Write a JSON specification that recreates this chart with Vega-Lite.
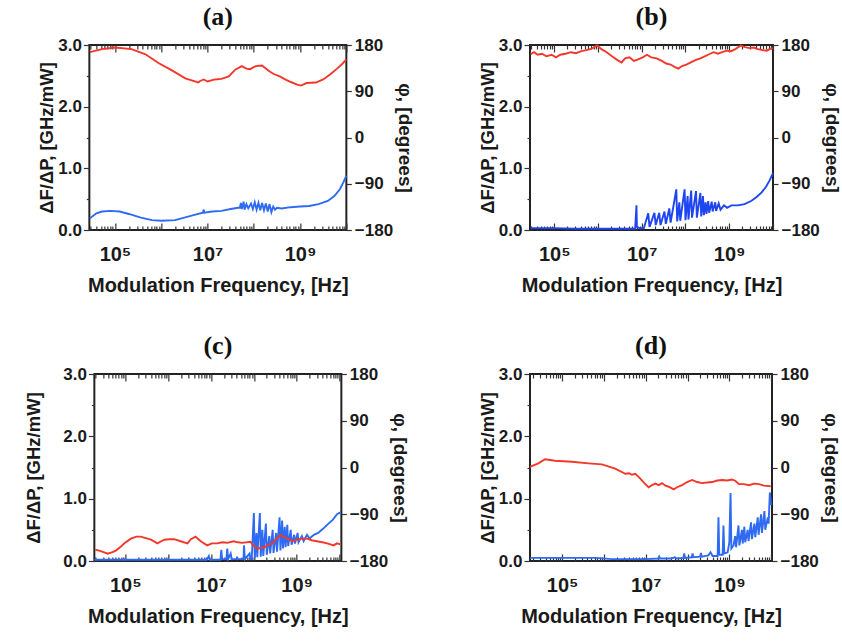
{
 "$schema": "https://vega.github.io/schema/vega-lite/v6.json",
 "background": "white",
 "padding": {"left": 23, "top": 3, "right": 0, "bottom": 0},
 "datasets": {
  "pts": [
   {"p":"a","s":"P","f":2.88e4,"v":166},{"p":"a","s":"P","f":5.25e4,"v":172},{"p":"a","s":"P","f":1e5,"v":175},{"p":"a","s":"P","f":2.29e5,"v":172},{"p":"a","s":"P","f":4.57e5,"v":162},{"p":"a","s":"P","f":8.71e5,"v":145},{"p":"a","s":"P","f":1.74e6,"v":130},{"p":"a","s":"P","f":3.31e6,"v":115},{"p":"a","s":"P","f":6.31e6,"v":107},{"p":"a","s":"P","f":6.92e6,"v":110},{"p":"a","s":"P","f":8.32e6,"v":113},{"p":"a","s":"P","f":1e7,"v":109},{"p":"a","s":"P","f":1.45e7,"v":113},{"p":"a","s":"P","f":2e7,"v":114},{"p":"a","s":"P","f":2.88e7,"v":119},{"p":"a","s":"P","f":3.98e7,"v":132},{"p":"a","s":"P","f":5.5e7,"v":139},{"p":"a","s":"P","f":6.92e7,"v":134},{"p":"a","s":"P","f":8.32e7,"v":133},{"p":"a","s":"P","f":1.1e8,"v":139},{"p":"a","s":"P","f":1.51e8,"v":140},{"p":"a","s":"P","f":2.09e8,"v":130},{"p":"a","s":"P","f":2.63e8,"v":124},{"p":"a","s":"P","f":3.63e8,"v":119},{"p":"a","s":"P","f":5.01e8,"v":112},{"p":"a","s":"P","f":6.31e8,"v":108},{"p":"a","s":"P","f":8.71e8,"v":103},{"p":"a","s":"P","f":1.05e9,"v":101},{"p":"a","s":"P","f":1.38e9,"v":106},{"p":"a","s":"P","f":2.19e9,"v":107},{"p":"a","s":"P","f":3.16e9,"v":113},{"p":"a","s":"P","f":4.37e9,"v":122},{"p":"a","s":"P","f":6.31e9,"v":134},{"p":"a","s":"P","f":8.32e9,"v":144},{"p":"a","s":"P","f":1e10,"v":152},
   {"p":"a","s":"A","f":2.88e4,"v":0.19},{"p":"a","s":"A","f":3.98e4,"v":0.27},{"p":"a","s":"A","f":5.25e4,"v":0.30},{"p":"a","s":"A","f":7.94e4,"v":0.31},{"p":"a","s":"A","f":1.26e5,"v":0.30},{"p":"a","s":"A","f":2e5,"v":0.26},{"p":"a","s":"A","f":3.63e5,"v":0.20},{"p":"a","s":"A","f":6.31e5,"v":0.16},{"p":"a","s":"A","f":1e6,"v":0.15},{"p":"a","s":"A","f":2e6,"v":0.16},{"p":"a","s":"A","f":3.16e6,"v":0.20},{"p":"a","s":"A","f":5.01e6,"v":0.24},{"p":"a","s":"A","f":7.94e6,"v":0.28},{"p":"a","s":"A","f":8.32e6,"v":0.33},{"p":"a","s":"A","f":8.5e6,"v":0.28},{"p":"a","s":"A","f":1.26e7,"v":0.30},{"p":"a","s":"A","f":2e7,"v":0.31},{"p":"a","s":"A","f":3.16e7,"v":0.34},{"p":"a","s":"A","f":4.57e7,"v":0.36},{"p":"a","s":"A","f":5.01e7,"v":0.36},{"p":"a","s":"A","f":5.25e7,"v":0.44},{"p":"a","s":"A","f":5.5e7,"v":0.34},{"p":"a","s":"A","f":6.03e7,"v":0.46},{"p":"a","s":"A","f":6.31e7,"v":0.33},{"p":"a","s":"A","f":6.92e7,"v":0.42},{"p":"a","s":"A","f":7.59e7,"v":0.35},{"p":"a","s":"A","f":8.71e7,"v":0.43},{"p":"a","s":"A","f":9.55e7,"v":0.34},{"p":"a","s":"A","f":1.05e8,"v":0.45},{"p":"a","s":"A","f":1.15e8,"v":0.33},{"p":"a","s":"A","f":1.26e8,"v":0.44},{"p":"a","s":"A","f":1.38e8,"v":0.32},{"p":"a","s":"A","f":1.51e8,"v":0.44},{"p":"a","s":"A","f":1.66e8,"v":0.32},{"p":"a","s":"A","f":1.82e8,"v":0.43},{"p":"a","s":"A","f":2e8,"v":0.30},{"p":"a","s":"A","f":2.19e8,"v":0.42},{"p":"a","s":"A","f":2.4e8,"v":0.29},{"p":"a","s":"A","f":2.63e8,"v":0.38},{"p":"a","s":"A","f":2.88e8,"v":0.33},{"p":"a","s":"A","f":3.16e8,"v":0.36},{"p":"a","s":"A","f":3.98e8,"v":0.35},{"p":"a","s":"A","f":6.31e8,"v":0.37},{"p":"a","s":"A","f":1e9,"v":0.38},{"p":"a","s":"A","f":1.58e9,"v":0.39},{"p":"a","s":"A","f":2.51e9,"v":0.42},{"p":"a","s":"A","f":3.98e9,"v":0.47},{"p":"a","s":"A","f":5.5e9,"v":0.55},{"p":"a","s":"A","f":7.24e9,"v":0.66},{"p":"a","s":"A","f":8.71e9,"v":0.78},{"p":"a","s":"A","f":1e10,"v":0.88},
   {"p":"b","s":"P","f":2.88e4,"v":162},{"p":"b","s":"P","f":3.47e4,"v":166},{"p":"b","s":"P","f":4.17e4,"v":161},{"p":"b","s":"P","f":5.25e4,"v":163},{"p":"b","s":"P","f":6.61e4,"v":158},{"p":"b","s":"P","f":8.71e4,"v":161},{"p":"b","s":"P","f":1.1e5,"v":156},{"p":"b","s":"P","f":1.38e5,"v":161},{"p":"b","s":"P","f":1.82e5,"v":163},{"p":"b","s":"P","f":2.4e5,"v":166},{"p":"b","s":"P","f":3.16e5,"v":164},{"p":"b","s":"P","f":4.17e5,"v":168},{"p":"b","s":"P","f":5.5e5,"v":170},{"p":"b","s":"P","f":7.24e5,"v":173},{"p":"b","s":"P","f":9.55e5,"v":179},{"p":"b","s":"P","f":1.2e6,"v":172},{"p":"b","s":"P","f":1.58e6,"v":166},{"p":"b","s":"P","f":2.09e6,"v":158},{"p":"b","s":"P","f":2.75e6,"v":151},{"p":"b","s":"P","f":3.47e6,"v":146},{"p":"b","s":"P","f":4.17e6,"v":154},{"p":"b","s":"P","f":5.25e6,"v":156},{"p":"b","s":"P","f":6.61e6,"v":149},{"p":"b","s":"P","f":8.32e6,"v":152},{"p":"b","s":"P","f":1.05e7,"v":156},{"p":"b","s":"P","f":1.32e7,"v":161},{"p":"b","s":"P","f":1.66e7,"v":156},{"p":"b","s":"P","f":2.19e7,"v":154},{"p":"b","s":"P","f":2.88e7,"v":149},{"p":"b","s":"P","f":3.63e7,"v":144},{"p":"b","s":"P","f":4.57e7,"v":142},{"p":"b","s":"P","f":5.75e7,"v":137},{"p":"b","s":"P","f":6.92e7,"v":134},{"p":"b","s":"P","f":8.32e7,"v":139},{"p":"b","s":"P","f":1.05e8,"v":142},{"p":"b","s":"P","f":1.32e8,"v":146},{"p":"b","s":"P","f":1.74e8,"v":151},{"p":"b","s":"P","f":2.19e8,"v":154},{"p":"b","s":"P","f":2.75e8,"v":158},{"p":"b","s":"P","f":3.47e8,"v":162},{"p":"b","s":"P","f":4.37e8,"v":166},{"p":"b","s":"P","f":5.5e8,"v":163},{"p":"b","s":"P","f":6.92e8,"v":166},{"p":"b","s":"P","f":8.71e8,"v":169},{"p":"b","s":"P","f":1.1e9,"v":168},{"p":"b","s":"P","f":1.38e9,"v":172},{"p":"b","s":"P","f":1.82e9,"v":179},{"p":"b","s":"P","f":2.29e9,"v":176},{"p":"b","s":"P","f":2.88e9,"v":174},{"p":"b","s":"P","f":3.63e9,"v":175},{"p":"b","s":"P","f":4.57e9,"v":172},{"p":"b","s":"P","f":5.75e9,"v":170},{"p":"b","s":"P","f":7.24e9,"v":169},{"p":"b","s":"P","f":8.71e9,"v":173},{"p":"b","s":"P","f":1e10,"v":174},
   {"p":"b","s":"A","f":2.88e4,"v":0.03},{"p":"b","s":"A","f":1e5,"v":0.03},{"p":"b","s":"A","f":3.16e5,"v":0.02},{"p":"b","s":"A","f":1e6,"v":0.02},{"p":"b","s":"A","f":3.16e6,"v":0.02},{"p":"b","s":"A","f":7.08e6,"v":0.02},{"p":"b","s":"A","f":7.59e6,"v":0.40},{"p":"b","s":"A","f":7.76e6,"v":0.05},{"p":"b","s":"A","f":8.91e6,"v":0.03},{"p":"b","s":"A","f":1.12e7,"v":0.03},{"p":"b","s":"A","f":1.41e7,"v":0.27},{"p":"b","s":"A","f":1.51e7,"v":0.05},{"p":"b","s":"A","f":1.95e7,"v":0.28},{"p":"b","s":"A","f":2.09e7,"v":0.08},{"p":"b","s":"A","f":2.51e7,"v":0.28},{"p":"b","s":"A","f":2.69e7,"v":0.08},{"p":"b","s":"A","f":3.31e7,"v":0.30},{"p":"b","s":"A","f":3.55e7,"v":0.10},{"p":"b","s":"A","f":4.27e7,"v":0.35},{"p":"b","s":"A","f":4.57e7,"v":0.12},{"p":"b","s":"A","f":6.17e7,"v":0.66},{"p":"b","s":"A","f":6.46e7,"v":0.14},{"p":"b","s":"A","f":7.24e7,"v":0.45},{"p":"b","s":"A","f":7.59e7,"v":0.15},{"p":"b","s":"A","f":9.55e7,"v":0.66},{"p":"b","s":"A","f":1e8,"v":0.16},{"p":"b","s":"A","f":1.12e8,"v":0.55},{"p":"b","s":"A","f":1.17e8,"v":0.17},{"p":"b","s":"A","f":1.35e8,"v":0.64},{"p":"b","s":"A","f":1.41e8,"v":0.20},{"p":"b","s":"A","f":1.74e8,"v":0.63},{"p":"b","s":"A","f":1.82e8,"v":0.20},{"p":"b","s":"A","f":2.19e8,"v":0.60},{"p":"b","s":"A","f":2.29e8,"v":0.22},{"p":"b","s":"A","f":2.51e8,"v":0.55},{"p":"b","s":"A","f":2.63e8,"v":0.24},{"p":"b","s":"A","f":2.88e8,"v":0.45},{"p":"b","s":"A","f":3.02e8,"v":0.26},{"p":"b","s":"A","f":3.31e8,"v":0.47},{"p":"b","s":"A","f":3.47e8,"v":0.28},{"p":"b","s":"A","f":3.98e8,"v":0.46},{"p":"b","s":"A","f":4.17e8,"v":0.30},{"p":"b","s":"A","f":4.79e8,"v":0.45},{"p":"b","s":"A","f":5.01e8,"v":0.31},{"p":"b","s":"A","f":5.75e8,"v":0.43},{"p":"b","s":"A","f":6.31e8,"v":0.33},{"p":"b","s":"A","f":7.59e8,"v":0.40},{"p":"b","s":"A","f":8.91e8,"v":0.36},{"p":"b","s":"A","f":1.12e9,"v":0.40},{"p":"b","s":"A","f":1.58e9,"v":0.40},{"p":"b","s":"A","f":2.24e9,"v":0.42},{"p":"b","s":"A","f":3.16e9,"v":0.47},{"p":"b","s":"A","f":4.17e9,"v":0.53},{"p":"b","s":"A","f":5.5e9,"v":0.61},{"p":"b","s":"A","f":6.92e9,"v":0.70},{"p":"b","s":"A","f":8.32e9,"v":0.80},{"p":"b","s":"A","f":1e10,"v":0.92},
   {"p":"c","s":"P","f":2.0e4,"v":-158},{"p":"c","s":"P","f":2.69e4,"v":-161},{"p":"c","s":"P","f":3.89e4,"v":-166},{"p":"c","s":"P","f":5.01e4,"v":-163},{"p":"c","s":"P","f":6.03e4,"v":-160},{"p":"c","s":"P","f":7.94e4,"v":-152},{"p":"c","s":"P","f":9.55e4,"v":-146},{"p":"c","s":"P","f":1.35e5,"v":-137},{"p":"c","s":"P","f":1.82e5,"v":-133},{"p":"c","s":"P","f":2.29e5,"v":-133},{"p":"c","s":"P","f":3.02e5,"v":-136},{"p":"c","s":"P","f":3.98e5,"v":-139},{"p":"c","s":"P","f":5.62e5,"v":-146},{"p":"c","s":"P","f":6.92e5,"v":-142},{"p":"c","s":"P","f":8.13e5,"v":-139},{"p":"c","s":"P","f":1.05e6,"v":-138},{"p":"c","s":"P","f":1.38e6,"v":-138},{"p":"c","s":"P","f":1.95e6,"v":-142},{"p":"c","s":"P","f":2.82e6,"v":-146},{"p":"c","s":"P","f":3.39e6,"v":-138},{"p":"c","s":"P","f":4.37e6,"v":-133},{"p":"c","s":"P","f":5.75e6,"v":-142},{"p":"c","s":"P","f":8.13e6,"v":-150},{"p":"c","s":"P","f":1.05e7,"v":-146},{"p":"c","s":"P","f":1.41e7,"v":-146},{"p":"c","s":"P","f":1.82e7,"v":-144},{"p":"c","s":"P","f":2.4e7,"v":-145},{"p":"c","s":"P","f":3.39e7,"v":-142},{"p":"c","s":"P","f":4.27e7,"v":-144},{"p":"c","s":"P","f":5.37e7,"v":-145},{"p":"c","s":"P","f":8.32e7,"v":-143},{"p":"c","s":"P","f":1e8,"v":-151},{"p":"c","s":"P","f":1.2e8,"v":-156},{"p":"c","s":"P","f":1.7e8,"v":-154},{"p":"c","s":"P","f":2.19e8,"v":-149},{"p":"c","s":"P","f":2.69e8,"v":-146},{"p":"c","s":"P","f":3.39e8,"v":-137},{"p":"c","s":"P","f":4.17e8,"v":-130},{"p":"c","s":"P","f":5.01e8,"v":-134},{"p":"c","s":"P","f":6.03e8,"v":-137},{"p":"c","s":"P","f":7.94e8,"v":-142},{"p":"c","s":"P","f":1.02e9,"v":-139},{"p":"c","s":"P","f":1.32e9,"v":-137},{"p":"c","s":"P","f":1.74e9,"v":-137},{"p":"c","s":"P","f":2.24e9,"v":-140},{"p":"c","s":"P","f":2.95e9,"v":-142},{"p":"c","s":"P","f":3.98e9,"v":-144},{"p":"c","s":"P","f":5.13e9,"v":-146},{"p":"c","s":"P","f":7.24e9,"v":-150},{"p":"c","s":"P","f":8.71e9,"v":-146},{"p":"c","s":"P","f":1.05e10,"v":-148},
   {"p":"c","s":"A","f":1.9e4,"v":0.02},{"p":"c","s":"A","f":1e5,"v":0.02},{"p":"c","s":"A","f":1e6,"v":0.02},{"p":"c","s":"A","f":7.94e6,"v":0.02},{"p":"c","s":"A","f":8.91e6,"v":0.08},{"p":"c","s":"A","f":9.33e6,"v":0.02},{"p":"c","s":"A","f":1.66e7,"v":0.02},{"p":"c","s":"A","f":1.74e7,"v":0.18},{"p":"c","s":"A","f":1.82e7,"v":0.03},{"p":"c","s":"A","f":2.29e7,"v":0.03},{"p":"c","s":"A","f":2.4e7,"v":0.20},{"p":"c","s":"A","f":2.51e7,"v":0.03},{"p":"c","s":"A","f":2.88e7,"v":0.12},{"p":"c","s":"A","f":3.02e7,"v":0.03},{"p":"c","s":"A","f":3.98e7,"v":0.03},{"p":"c","s":"A","f":4.07e7,"v":0.07},{"p":"c","s":"A","f":4.17e7,"v":0.03},{"p":"c","s":"A","f":5.75e7,"v":0.03},{"p":"c","s":"A","f":5.89e7,"v":0.25},{"p":"c","s":"A","f":6.17e7,"v":0.03},{"p":"c","s":"A","f":7.94e7,"v":0.12},{"p":"c","s":"A","f":8.32e7,"v":0.03},{"p":"c","s":"A","f":8.91e7,"v":0.03},{"p":"c","s":"A","f":1e8,"v":0.77},{"p":"c","s":"A","f":1.05e8,"v":0.05},{"p":"c","s":"A","f":1.15e8,"v":0.45},{"p":"c","s":"A","f":1.2e8,"v":0.06},{"p":"c","s":"A","f":1.38e8,"v":0.77},{"p":"c","s":"A","f":1.45e8,"v":0.07},{"p":"c","s":"A","f":1.58e8,"v":0.50},{"p":"c","s":"A","f":1.66e8,"v":0.08},{"p":"c","s":"A","f":1.91e8,"v":0.60},{"p":"c","s":"A","f":2.0e8,"v":0.10},{"p":"c","s":"A","f":2.29e8,"v":0.40},{"p":"c","s":"A","f":2.4e8,"v":0.12},{"p":"c","s":"A","f":2.75e8,"v":0.50},{"p":"c","s":"A","f":2.88e8,"v":0.13},{"p":"c","s":"A","f":3.31e8,"v":0.45},{"p":"c","s":"A","f":3.47e8,"v":0.15},{"p":"c","s":"A","f":3.98e8,"v":0.70},{"p":"c","s":"A","f":4.17e8,"v":0.17},{"p":"c","s":"A","f":4.57e8,"v":0.65},{"p":"c","s":"A","f":4.79e8,"v":0.20},{"p":"c","s":"A","f":5.25e8,"v":0.55},{"p":"c","s":"A","f":5.5e8,"v":0.22},{"p":"c","s":"A","f":6.03e8,"v":0.58},{"p":"c","s":"A","f":6.31e8,"v":0.24},{"p":"c","s":"A","f":7.24e8,"v":0.50},{"p":"c","s":"A","f":7.59e8,"v":0.26},{"p":"c","s":"A","f":8.71e8,"v":0.42},{"p":"c","s":"A","f":9.12e8,"v":0.28},{"p":"c","s":"A","f":1.05e9,"v":0.45},{"p":"c","s":"A","f":1.1e9,"v":0.30},{"p":"c","s":"A","f":1.32e9,"v":0.40},{"p":"c","s":"A","f":1.45e9,"v":0.32},{"p":"c","s":"A","f":1.74e9,"v":0.42},{"p":"c","s":"A","f":2.0e9,"v":0.36},{"p":"c","s":"A","f":2.51e9,"v":0.42},{"p":"c","s":"A","f":3.16e9,"v":0.45},{"p":"c","s":"A","f":4.17e9,"v":0.52},{"p":"c","s":"A","f":5.5e9,"v":0.60},{"p":"c","s":"A","f":6.92e9,"v":0.66},{"p":"c","s":"A","f":8.71e9,"v":0.75},{"p":"c","s":"A","f":1.05e10,"v":0.78},
   {"p":"d","s":"P","f":1.7e4,"v":1},{"p":"d","s":"P","f":2.69e4,"v":8},{"p":"d","s":"P","f":3.89e4,"v":16},{"p":"d","s":"P","f":6.76e4,"v":13},{"p":"d","s":"P","f":1.7e5,"v":11},{"p":"d","s":"P","f":4.27e5,"v":8},{"p":"d","s":"P","f":8.91e5,"v":6},{"p":"d","s":"P","f":1.86e6,"v":-2},{"p":"d","s":"P","f":3.24e6,"v":-12},{"p":"d","s":"P","f":3.98e6,"v":-11},{"p":"d","s":"P","f":4.68e6,"v":-14},{"p":"d","s":"P","f":5.62e6,"v":-12},{"p":"d","s":"P","f":6.76e6,"v":-18},{"p":"d","s":"P","f":9.77e6,"v":-32},{"p":"d","s":"P","f":1.17e7,"v":-38},{"p":"d","s":"P","f":1.41e7,"v":-34},{"p":"d","s":"P","f":1.7e7,"v":-31},{"p":"d","s":"P","f":2.04e7,"v":-34},{"p":"d","s":"P","f":2.45e7,"v":-30},{"p":"d","s":"P","f":2.95e7,"v":-35},{"p":"d","s":"P","f":3.55e7,"v":-37},{"p":"d","s":"P","f":4.68e7,"v":-42},{"p":"d","s":"P","f":5.62e7,"v":-38},{"p":"d","s":"P","f":7.41e7,"v":-34},{"p":"d","s":"P","f":9.77e7,"v":-28},{"p":"d","s":"P","f":1.29e8,"v":-24},{"p":"d","s":"P","f":1.7e8,"v":-28},{"p":"d","s":"P","f":2.24e8,"v":-30},{"p":"d","s":"P","f":2.95e8,"v":-29},{"p":"d","s":"P","f":3.89e8,"v":-28},{"p":"d","s":"P","f":5.13e8,"v":-25},{"p":"d","s":"P","f":6.76e8,"v":-24},{"p":"d","s":"P","f":8.91e8,"v":-25},{"p":"d","s":"P","f":1.17e9,"v":-23},{"p":"d","s":"P","f":1.41e9,"v":-26},{"p":"d","s":"P","f":1.7e9,"v":-32},{"p":"d","s":"P","f":2.24e9,"v":-32},{"p":"d","s":"P","f":2.95e9,"v":-34},{"p":"d","s":"P","f":3.89e9,"v":-31},{"p":"d","s":"P","f":5.13e9,"v":-32},{"p":"d","s":"P","f":6.76e9,"v":-35},{"p":"d","s":"P","f":9.77e9,"v":-36},
   {"p":"d","s":"A","f":1.7e4,"v":0.05},{"p":"d","s":"A","f":1e5,"v":0.05},{"p":"d","s":"A","f":6.31e5,"v":0.05},{"p":"d","s":"A","f":1.58e6,"v":0.03},{"p":"d","s":"A","f":1e7,"v":0.03},{"p":"d","s":"A","f":2e7,"v":0.04},{"p":"d","s":"A","f":2.09e7,"v":0.07},{"p":"d","s":"A","f":2.19e7,"v":0.04},{"p":"d","s":"A","f":3.98e7,"v":0.04},{"p":"d","s":"A","f":5.01e7,"v":0.06},{"p":"d","s":"A","f":5.5e7,"v":0.04},{"p":"d","s":"A","f":7.94e7,"v":0.05},{"p":"d","s":"A","f":8.32e7,"v":0.12},{"p":"d","s":"A","f":8.71e7,"v":0.05},{"p":"d","s":"A","f":1.26e8,"v":0.06},{"p":"d","s":"A","f":1.32e8,"v":0.12},{"p":"d","s":"A","f":1.38e8,"v":0.06},{"p":"d","s":"A","f":2e8,"v":0.07},{"p":"d","s":"A","f":2.09e8,"v":0.13},{"p":"d","s":"A","f":2.19e8,"v":0.07},{"p":"d","s":"A","f":3.16e8,"v":0.09},{"p":"d","s":"A","f":3.55e8,"v":0.14},{"p":"d","s":"A","f":3.98e8,"v":0.08},{"p":"d","s":"A","f":5.25e8,"v":0.08},{"p":"d","s":"A","f":5.5e8,"v":0.70},{"p":"d","s":"A","f":5.75e8,"v":0.10},{"p":"d","s":"A","f":6.92e8,"v":0.10},{"p":"d","s":"A","f":7.24e8,"v":0.57},{"p":"d","s":"A","f":7.59e8,"v":0.12},{"p":"d","s":"A","f":9.12e8,"v":0.14},{"p":"d","s":"A","f":1e9,"v":0.30},{"p":"d","s":"A","f":1.07e9,"v":1.09},{"p":"d","s":"A","f":1.12e9,"v":0.20},{"p":"d","s":"A","f":1.26e9,"v":0.25},{"p":"d","s":"A","f":1.38e9,"v":0.40},{"p":"d","s":"A","f":1.45e9,"v":0.22},{"p":"d","s":"A","f":1.66e9,"v":0.57},{"p":"d","s":"A","f":1.74e9,"v":0.25},{"p":"d","s":"A","f":2e9,"v":0.50},{"p":"d","s":"A","f":2.09e9,"v":0.28},{"p":"d","s":"A","f":2.29e9,"v":0.55},{"p":"d","s":"A","f":2.4e9,"v":0.30},{"p":"d","s":"A","f":2.75e9,"v":0.50},{"p":"d","s":"A","f":2.88e9,"v":0.32},{"p":"d","s":"A","f":3.31e9,"v":0.62},{"p":"d","s":"A","f":3.47e9,"v":0.35},{"p":"d","s":"A","f":3.98e9,"v":0.60},{"p":"d","s":"A","f":4.17e9,"v":0.38},{"p":"d","s":"A","f":4.79e9,"v":0.70},{"p":"d","s":"A","f":5.01e9,"v":0.42},{"p":"d","s":"A","f":5.75e9,"v":0.75},{"p":"d","s":"A","f":6.03e9,"v":0.45},{"p":"d","s":"A","f":6.92e9,"v":0.80},{"p":"d","s":"A","f":7.24e9,"v":0.50},{"p":"d","s":"A","f":8.32e9,"v":0.70},{"p":"d","s":"A","f":8.71e9,"v":0.60},{"p":"d","s":"A","f":9.33e9,"v":1.10},{"p":"d","s":"A","f":1e10,"v":0.90}
  ]
 },
 "data": {"name": "pts"},
 "columns": 2,
 "center": true,
 "spacing": {"row": 36, "column": 62},
 "concat": [
   {"title": "(a)", "width": 257, "height": 185,
    "transform": [{"filter": "datum.p == 'a'"}],
    "layer": [
     {"transform": [{"filter": "datum.s == 'A'"}], "mark": {"type": "line", "color": "#2f6bf2"},
      "encoding": {
       "x": {"field": "f", "type": "quantitative", "scale": {"type": "log", "domain": [2.8e4, 1e10], "nice": false},
        "axis": {"title": "Modulation Frequency, [Hz]", "values": [3e4,4e4,5e4,6e4,7e4,8e4,9e4,1e5,2e5,3e5,4e5,5e5,6e5,7e5,8e5,9e5,1e6,2e6,3e6,4e6,5e6,6e6,7e6,8e6,9e6,1e7,2e7,3e7,4e7,5e7,6e7,7e7,8e7,9e7,1e8,2e8,3e8,4e8,5e8,6e8,7e8,8e8,9e8,1e9,2e9,3e9,4e9,5e9,6e9,7e9,8e9,9e9,1e10],
         "labelExpr": "datum.value == 1e5 ? '10⁵' : datum.value == 1e7 ? '10⁷' : datum.value == 1e9 ? '10⁹' : ''",
         "tickSize": {"condition": {"test": "abs(log(datum.value)/LN10 - round(log(datum.value)/LN10)) < 0.01", "value": -7}, "value": -4},
         "labelFontSize": 20, "labelPadding": 21, "titlePadding": 8, "titleFontSize": 20}},
       "y": {"field": "v", "type": "quantitative", "scale": {"domain": [0, 3], "nice": false},
        "axis": {"title": "ΔF/ΔP, [GHz/mW]", "values": [0,0.5,1,1.5,2,2.5,3], "labelExpr": "datum.value % 1 == 0 ? format(datum.value, '.1f') : ''", "tickSize": {"condition": {"test": "datum.value % 1 == 0", "value": 6}, "value": 3}, "labelPadding": 2, "titlePadding": 1, "titleFontSize": 18.5}}
      }},
     {"transform": [{"filter": "datum.s == 'P'"}], "mark": {"type": "line", "color": "#f4372a"},
      "encoding": {
       "x": {"field": "f", "type": "quantitative",
        "axis": {"orient": "top", "title": null, "labels": false, "values": [3e4,4e4,5e4,6e4,7e4,8e4,9e4,1e5,2e5,3e5,4e5,5e5,6e5,7e5,8e5,9e5,1e6,2e6,3e6,4e6,5e6,6e6,7e6,8e6,9e6,1e7,2e7,3e7,4e7,5e7,6e7,7e7,8e7,9e7,1e8,2e8,3e8,4e8,5e8,6e8,7e8,8e8,9e8,1e9,2e9,3e9,4e9,5e9,6e9,7e9,8e9,9e9,1e10],
         "tickSize": {"condition": {"test": "abs(log(datum.value)/LN10 - round(log(datum.value)/LN10)) < 0.01", "value": -7}, "value": -4}}},
       "y": {"field": "v", "type": "quantitative", "scale": {"domain": [-180, 180], "nice": false},
        "axis": {"orient": "right", "title": "φ, [degrees]", "values": [-180,-90,0,90,180], "tickSize": 5, "labelPadding": 3, "titlePadding": 2, "titleFontSize": 19}}
      }}
    ],
    "resolve": {"scale": {"y": "independent"}, "axis": {"x": "independent", "y": "independent"}}},
   {"title": "(b)", "width": 243, "height": 185,
    "transform": [{"filter": "datum.p == 'b'"}],
    "layer": [
     {"transform": [{"filter": "datum.s == 'A'"}], "mark": {"type": "line", "color": "#1f45f0"},
      "encoding": {
       "x": {"field": "f", "type": "quantitative", "scale": {"type": "log", "domain": [2.8e4, 1e10], "nice": false},
        "axis": {"title": "Modulation Frequency, [Hz]", "values": [3e4,4e4,5e4,6e4,7e4,8e4,9e4,1e5,2e5,3e5,4e5,5e5,6e5,7e5,8e5,9e5,1e6,2e6,3e6,4e6,5e6,6e6,7e6,8e6,9e6,1e7,2e7,3e7,4e7,5e7,6e7,7e7,8e7,9e7,1e8,2e8,3e8,4e8,5e8,6e8,7e8,8e8,9e8,1e9,2e9,3e9,4e9,5e9,6e9,7e9,8e9,9e9,1e10],
         "labelExpr": "datum.value == 1e5 ? '10⁵' : datum.value == 1e7 ? '10⁷' : datum.value == 1e9 ? '10⁹' : ''",
         "tickSize": {"condition": {"test": "abs(log(datum.value)/LN10 - round(log(datum.value)/LN10)) < 0.01", "value": -7}, "value": -4},
         "labelFontSize": 20, "labelPadding": 21, "titlePadding": 8, "titleFontSize": 20}},
       "y": {"field": "v", "type": "quantitative", "scale": {"domain": [0, 3], "nice": false},
        "axis": {"title": "ΔF/ΔP, [GHz/mW]", "values": [0,0.5,1,1.5,2,2.5,3], "labelExpr": "datum.value % 1 == 0 ? format(datum.value, '.1f') : ''", "tickSize": {"condition": {"test": "datum.value % 1 == 0", "value": 6}, "value": 3}, "labelPadding": 2, "titlePadding": 1, "titleFontSize": 18.5}}
      }},
     {"transform": [{"filter": "datum.s == 'P'"}], "mark": {"type": "line", "color": "#f4372a"},
      "encoding": {
       "x": {"field": "f", "type": "quantitative",
        "axis": {"orient": "top", "title": null, "labels": false, "values": [3e4,4e4,5e4,6e4,7e4,8e4,9e4,1e5,2e5,3e5,4e5,5e5,6e5,7e5,8e5,9e5,1e6,2e6,3e6,4e6,5e6,6e6,7e6,8e6,9e6,1e7,2e7,3e7,4e7,5e7,6e7,7e7,8e7,9e7,1e8,2e8,3e8,4e8,5e8,6e8,7e8,8e8,9e8,1e9,2e9,3e9,4e9,5e9,6e9,7e9,8e9,9e9,1e10],
         "tickSize": {"condition": {"test": "abs(log(datum.value)/LN10 - round(log(datum.value)/LN10)) < 0.01", "value": -7}, "value": -4}}},
       "y": {"field": "v", "type": "quantitative", "scale": {"domain": [-180, 180], "nice": false},
        "axis": {"orient": "right", "title": "φ, [degrees]", "values": [-180,-90,0,90,180], "tickSize": 5, "labelPadding": 3, "titlePadding": 2, "titleFontSize": 19}}
      }}
    ],
    "resolve": {"scale": {"y": "independent"}, "axis": {"x": "independent", "y": "independent"}}},
   {"title": "(c)", "width": 247, "height": 187,
    "transform": [{"filter": "datum.p == 'c'"}],
    "layer": [
     {"transform": [{"filter": "datum.s == 'A'"}], "mark": {"type": "line", "color": "#2f6bf2"},
      "encoding": {
       "x": {"field": "f", "type": "quantitative", "scale": {"type": "log", "domain": [1.9e4, 1.1e10], "nice": false},
        "axis": {"title": "Modulation Frequency, [Hz]", "values": [2e4,3e4,4e4,5e4,6e4,7e4,8e4,9e4,1e5,2e5,3e5,4e5,5e5,6e5,7e5,8e5,9e5,1e6,2e6,3e6,4e6,5e6,6e6,7e6,8e6,9e6,1e7,2e7,3e7,4e7,5e7,6e7,7e7,8e7,9e7,1e8,2e8,3e8,4e8,5e8,6e8,7e8,8e8,9e8,1e9,2e9,3e9,4e9,5e9,6e9,7e9,8e9,9e9,1e10],
         "labelExpr": "datum.value == 1e5 ? '10⁵' : datum.value == 1e7 ? '10⁷' : datum.value == 1e9 ? '10⁹' : ''",
         "tickSize": {"condition": {"test": "abs(log(datum.value)/LN10 - round(log(datum.value)/LN10)) < 0.01", "value": -7}, "value": -4},
         "labelFontSize": 20, "labelPadding": 21, "titlePadding": 8, "titleFontSize": 20}},
       "y": {"field": "v", "type": "quantitative", "scale": {"domain": [0, 3], "nice": false},
        "axis": {"title": "ΔF/ΔP, [GHz/mW]", "values": [0,0.5,1,1.5,2,2.5,3], "labelExpr": "datum.value % 1 == 0 ? format(datum.value, '.1f') : ''", "tickSize": {"condition": {"test": "datum.value % 1 == 0", "value": 6}, "value": 3}, "labelPadding": 2, "titlePadding": 19, "titleFontSize": 18.5}}
      }},
     {"transform": [{"filter": "datum.s == 'P'"}], "mark": {"type": "line", "color": "#f4372a"},
      "encoding": {
       "x": {"field": "f", "type": "quantitative",
        "axis": {"orient": "top", "title": null, "labels": false, "values": [2e4,3e4,4e4,5e4,6e4,7e4,8e4,9e4,1e5,2e5,3e5,4e5,5e5,6e5,7e5,8e5,9e5,1e6,2e6,3e6,4e6,5e6,6e6,7e6,8e6,9e6,1e7,2e7,3e7,4e7,5e7,6e7,7e7,8e7,9e7,1e8,2e8,3e8,4e8,5e8,6e8,7e8,8e8,9e8,1e9,2e9,3e9,4e9,5e9,6e9,7e9,8e9,9e9,1e10],
         "tickSize": {"condition": {"test": "abs(log(datum.value)/LN10 - round(log(datum.value)/LN10)) < 0.01", "value": -7}, "value": -4}}},
       "y": {"field": "v", "type": "quantitative", "scale": {"domain": [-180, 180], "nice": false},
        "axis": {"orient": "right", "title": "φ, [degrees]", "values": [-180,-90,0,90,180], "tickSize": 5, "labelPadding": 3, "titlePadding": 2, "titleFontSize": 19}}
      }}
    ],
    "resolve": {"scale": {"y": "independent"}, "axis": {"x": "independent", "y": "independent"}}},
   {"title": "(d)", "width": 242, "height": 187,
    "transform": [{"filter": "datum.p == 'd'"}],
    "layer": [
     {"transform": [{"filter": "datum.s == 'A'"}], "mark": {"type": "line", "color": "#2f6bf2"},
      "encoding": {
       "x": {"field": "f", "type": "quantitative", "scale": {"type": "log", "domain": [1.7e4, 1.05e10], "nice": false},
        "axis": {"title": "Modulation Frequency, [Hz]", "values": [2e4,3e4,4e4,5e4,6e4,7e4,8e4,9e4,1e5,2e5,3e5,4e5,5e5,6e5,7e5,8e5,9e5,1e6,2e6,3e6,4e6,5e6,6e6,7e6,8e6,9e6,1e7,2e7,3e7,4e7,5e7,6e7,7e7,8e7,9e7,1e8,2e8,3e8,4e8,5e8,6e8,7e8,8e8,9e8,1e9,2e9,3e9,4e9,5e9,6e9,7e9,8e9,9e9,1e10],
         "labelExpr": "datum.value == 1e5 ? '10⁵' : datum.value == 1e7 ? '10⁷' : datum.value == 1e9 ? '10⁹' : ''",
         "tickSize": {"condition": {"test": "abs(log(datum.value)/LN10 - round(log(datum.value)/LN10)) < 0.01", "value": -7}, "value": -4},
         "labelFontSize": 20, "labelPadding": 21, "titlePadding": 8, "titleFontSize": 20}},
       "y": {"field": "v", "type": "quantitative", "scale": {"domain": [0, 3], "nice": false},
        "axis": {"title": "ΔF/ΔP, [GHz/mW]", "values": [0,0.5,1,1.5,2,2.5,3], "labelExpr": "datum.value % 1 == 0 ? format(datum.value, '.1f') : ''", "tickSize": {"condition": {"test": "datum.value % 1 == 0", "value": 6}, "value": 3}, "labelPadding": 2, "titlePadding": 1, "titleFontSize": 18.5}}
      }},
     {"transform": [{"filter": "datum.s == 'P'"}], "mark": {"type": "line", "color": "#f4372a"},
      "encoding": {
       "x": {"field": "f", "type": "quantitative",
        "axis": {"orient": "top", "title": null, "labels": false, "values": [2e4,3e4,4e4,5e4,6e4,7e4,8e4,9e4,1e5,2e5,3e5,4e5,5e5,6e5,7e5,8e5,9e5,1e6,2e6,3e6,4e6,5e6,6e6,7e6,8e6,9e6,1e7,2e7,3e7,4e7,5e7,6e7,7e7,8e7,9e7,1e8,2e8,3e8,4e8,5e8,6e8,7e8,8e8,9e8,1e9,2e9,3e9,4e9,5e9,6e9,7e9,8e9,9e9,1e10],
         "tickSize": {"condition": {"test": "abs(log(datum.value)/LN10 - round(log(datum.value)/LN10)) < 0.01", "value": -7}, "value": -4}}},
       "y": {"field": "v", "type": "quantitative", "scale": {"domain": [-180, 180], "nice": false},
        "axis": {"orient": "right", "title": "φ, [degrees]", "values": [-180,-90,0,90,180], "tickSize": 5, "labelPadding": 3, "titlePadding": 2, "titleFontSize": 19}}
      }}
    ],
    "resolve": {"scale": {"y": "independent"}, "axis": {"x": "independent", "y": "independent"}}}
 ],
 "config": {
  "view": {"stroke": "#222", "strokeWidth": 2},
  "axis": {"domain": false, "grid": false, "labelFont": "Liberation Sans", "labelFontWeight": "bold", "labelFontSize": 17, "labelColor": "#1a1a1a", "titleFont": "Liberation Sans", "titleFontWeight": "bold", "titleFontSize": 16, "titleColor": "#1a1a1a", "tickColor": "#333", "tickWidth": 1.2, "labelOverlap": false, "labelFlush": false},
  "title": {"font": "Liberation Serif", "fontSize": 26, "fontWeight": "bold", "color": "#111", "offset": 6},
  "line": {"strokeWidth": 1.9}
 }
}
